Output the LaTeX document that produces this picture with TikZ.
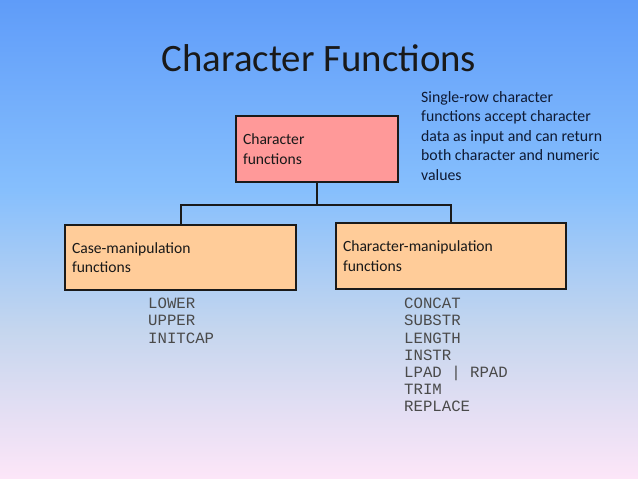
\documentclass[tikz,border=0pt]{standalone}
\usepackage{fontspec}
\setmainfont{Carlito}
\setmonofont{Liberation Mono}
\definecolor{bga}{HTML}{5F9CF9}
\definecolor{bgb}{HTML}{86BFFD}
\definecolor{bgc}{HTML}{C5D6EE}
\definecolor{bgd}{HTML}{FDE6F8}
\definecolor{pinkbox}{HTML}{FF9999}
\definecolor{orangebox}{HTML}{FFCC99}
\definecolor{edgecol}{HTML}{1A1A1A}
\definecolor{notecol}{HTML}{0F1A33}
\definecolor{monocol}{HTML}{4A4A4A}
\pgfdeclareverticalshading{bgshade}{100bp}{color(0bp)=(bgd); color(25bp)=(bgd); color(40.55bp)=(bgc); color(55.17bp)=(bgb); color(75bp)=(bga); color(100bp)=(bga)}
\tikzset{
  fbox/.style={draw=edgecol, line width=1.8pt, inner xsep=7pt, inner ysep=0pt, align=left,
    font=\fontsize{15.6}{19.5}\selectfont, text=black!90},
  link/.style={draw=edgecol, line width=2pt},
  monolist/.style={inner sep=0pt, anchor=north west, align=left, text=monocol,
    font=\ttfamily\fontsize{15.7}{17.2}\selectfont},
}
\begin{document}
\begin{tikzpicture}[x=1pt,y=-1pt]
\shade[shading=bgshade] (0,0) rectangle (638,479);
\useasboundingbox (0,0) rectangle (638,479);
\node[inner sep=0pt, anchor=base, font=\fontsize{38.8}{46}\selectfont, text=black!90] (title) at (319,71) {Character Functions};
\node[fbox, fill=pinkbox, minimum width=162pt, minimum height=66pt, text width=148pt] (top) at (317,149) {Character\\functions};
\node[fbox, fill=orangebox, minimum width=231pt, minimum height=65pt, text width=217pt] (left) at (180.5,257.5) {Case-manipulation\\functions};
\node[fbox, fill=orangebox, minimum width=230pt, minimum height=66pt, text width=216pt] (right) at (451,256) {Character-manipulation\\functions};
\draw[link] (top.south) -- ++(0,22) coordinate (mid) -| (left.north);
\draw[link] (mid) -| (right.north);
\node[inner sep=0pt, anchor=north west, align=left, text=notecol, font=\fontsize{15.8}{19.5}\selectfont] (note) at (421,91) {Single-row character\\functions accept character\\data as input and can return\\both character and numeric\\values};
\node[monolist] (caselist) at (148,298) {LOWER\\UPPER\\INITCAP};
\node[monolist] (charlist) at (404,298) {CONCAT\\SUBSTR\\LENGTH\\INSTR\\LPAD | RPAD\\TRIM\\REPLACE};
\end{tikzpicture}
\end{document}
